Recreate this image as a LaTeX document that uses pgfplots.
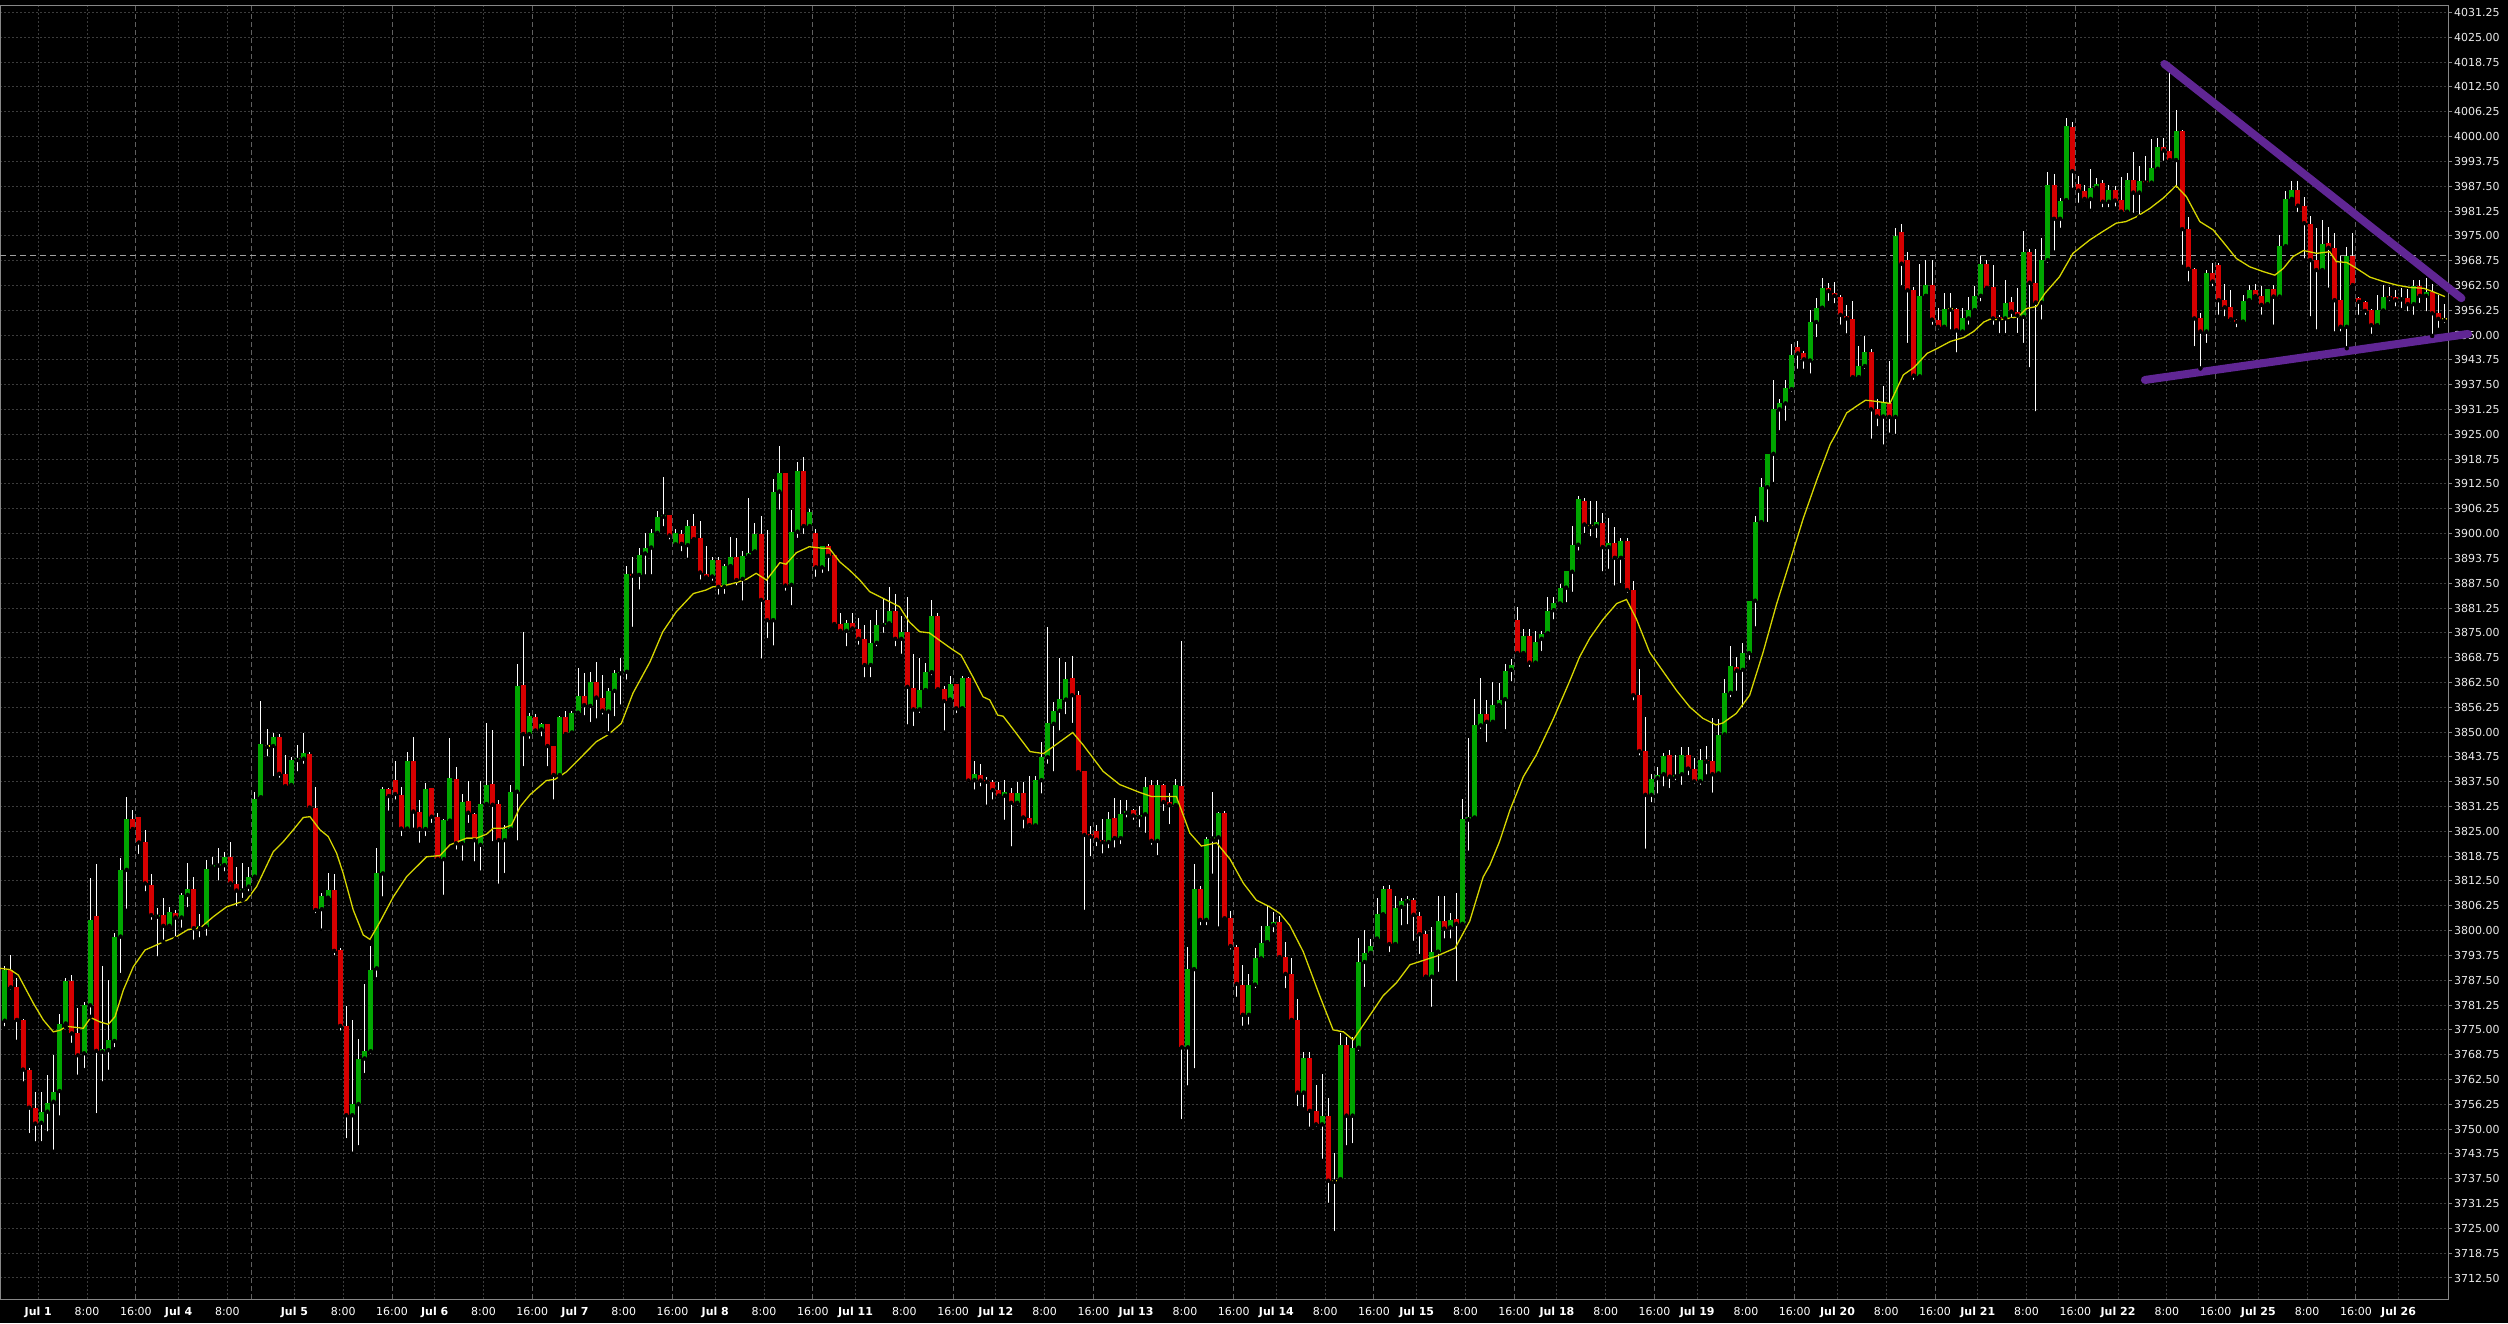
\documentclass[border=0pt]{standalone}
\usepackage{fontspec}
\setmainfont{DejaVu Sans}
\usepackage{pgfplots}
\usepackage{pgfplotstable}
\pgfplotsset{compat=1.18}
\definecolor{cgreen}{RGB}{0,166,0}
\definecolor{cred}{RGB}{214,0,0}
\definecolor{cyellow}{RGB}{214,214,0}
\definecolor{cpurple}{RGB}{96,38,148}
\definecolor{gridc}{RGB}{60,60,60}
\definecolor{sessc}{RGB}{95,95,95}
\definecolor{framec}{RGB}{135,135,135}

\pgfplotstableread{
n o h l c
0 3777.3 3791.1 3775.4 3790.2
1 3790.1 3793.8 3784.6 3785.7
2 3785.7 3788.0 3772.0 3777.5
3 3777.5 3777.8 3761.5 3765.0
4 3765.0 3765.5 3748.5 3755.4
5 3755.4 3759.4 3746.4 3751.4
6 3751.6 3759.4 3746.4 3754.4
7 3754.4 3763.6 3748.9 3756.6
8 3756.9 3768.6 3744.3 3759.4
9 3759.6 3779.1 3752.9 3776.6
10 3776.6 3788.0 3775.8 3787.3
11 3787.3 3788.8 3771.2 3774.1
12 3774.1 3780.4 3763.2 3768.6
13 3769.1 3782.1 3764.9 3781.2
14 3781.2 3813.2 3778.3 3802.8
15 3803.7 3816.8 3753.5 3769.7
16 3769.5 3791.1 3761.5 3770.1
17 3769.9 3787.5 3764.4 3772.4
18 3772.2 3799.5 3770.1 3798.5
19 3798.5 3818.2 3788.8 3815.3
20 3815.3 3833.6 3805.0 3828.0
21 3828.0 3830.4 3824.9 3825.6
22 3828.5 3828.6 3818.8 3822.2
23 3822.2 3825.4 3809.4 3811.9
24 3811.5 3814.2 3802.2 3803.9
25 3803.5 3805.6 3793.0 3803.9
26 3803.9 3808.1 3797.2 3801.2
27 3801.2 3806.0 3800.2 3804.6
28 3804.4 3805.2 3798.0 3803.3
29 3803.3 3809.4 3800.2 3809.0
30 3809.0 3817.1 3805.4 3810.4
31 3810.4 3813.4 3797.2 3800.6
32 3800.6 3804.3 3797.8 3800.8
33 3801.0 3817.8 3798.2 3815.4
34 3816.1 3818.6 3815.3 3816.5
35 3816.4 3820.7 3812.1 3816.9
36 3816.5 3819.9 3814.4 3818.5
37 3818.5 3822.2 3810.6 3811.9
38 3811.7 3816.1 3805.6 3810.1
39 3810.1 3817.1 3807.7 3810.6
40 3811.1 3816.1 3809.4 3813.4
41 3813.6 3834.9 3812.8 3833.1
42 3833.6 3857.9 3833.4 3847.0
43 3846.5 3850.7 3843.4 3846.5
44 3846.5 3849.9 3838.4 3848.7
45 3848.7 3849.5 3838.0 3839.5
46 3839.5 3844.3 3835.6 3836.4
47 3836.7 3843.7 3836.4 3843.0
48 3843.0 3846.8 3839.6 3843.5
49 3843.3 3849.9 3841.5 3844.8
50 3844.5 3844.9 3830.6 3831.0
51 3831.0 3836.3 3803.9 3805.2
52 3805.4 3809.4 3800.0 3808.7
53 3808.3 3814.6 3807.7 3810.2
54 3810.2 3814.2 3793.3 3794.9
55 3795.1 3795.5 3774.3 3776.0
56 3776.0 3781.0 3747.2 3753.5
57 3753.5 3777.6 3743.8 3756.3
58 3756.3 3772.8 3745.4 3767.6
59 3767.8 3786.5 3763.6 3769.6
60 3769.6 3796.1 3768.4 3790.1
61 3790.5 3820.7 3787.7 3814.4
62 3814.4 3836.1 3808.1 3835.7
63 3835.7 3835.9 3829.7 3833.9
64 3837.9 3842.8 3832.5 3834.4
65 3834.2 3836.3 3823.3 3825.7
66 3825.7 3845.1 3825.4 3842.6
67 3842.8 3848.7 3825.4 3830.0
68 3830.0 3832.9 3821.6 3825.6
69 3825.6 3837.1 3823.3 3835.7
70 3835.9 3836.0 3826.6 3828.7
71 3828.7 3829.6 3817.8 3818.0
72 3818.0 3828.0 3808.5 3827.9
73 3827.7 3848.5 3827.2 3838.5
74 3838.2 3841.2 3819.9 3822.0
75 3822.0 3834.4 3817.1 3832.4
76 3832.7 3837.7 3826.6 3829.7
77 3829.4 3829.6 3816.9 3822.8
78 3821.6 3837.7 3814.6 3831.9
79 3831.9 3852.4 3831.2 3836.7
80 3836.9 3850.6 3822.0 3831.7
81 3831.9 3832.9 3811.3 3822.8
82 3822.8 3826.6 3814.0 3825.5
83 3825.5 3836.7 3825.3 3835.0
84 3835.0 3867.2 3822.2 3861.6
85 3861.9 3875.1 3840.9 3849.5
86 3849.5 3854.9 3847.8 3854.1
87 3853.7 3854.6 3849.3 3850.4
88 3850.7 3852.4 3848.4 3852.0
89 3852.0 3852.1 3840.9 3846.5
90 3846.5 3846.6 3832.5 3839.2
91 3839.2 3854.1 3838.8 3853.9
92 3853.9 3855.2 3848.9 3849.5
93 3849.9 3855.2 3849.7 3854.7
94 3854.9 3866.1 3853.9 3859.1
95 3859.1 3865.0 3853.7 3856.8
96 3856.6 3865.2 3852.0 3862.5
97 3862.5 3867.7 3852.9 3858.7
98 3858.7 3864.4 3853.9 3855.4
99 3855.2 3861.0 3849.7 3860.4
100 3860.4 3865.6 3853.5 3864.8
101 3864.8 3868.6 3856.4 3865.2
102 3865.2 3891.8 3862.7 3889.8
103 3889.8 3894.2 3876.0 3889.4
104 3889.6 3896.5 3885.4 3894.6
105 3895.0 3900.1 3889.2 3896.5
106 3896.5 3901.1 3889.2 3900.2
107 3900.2 3905.8 3899.1 3904.3
108 3904.3 3914.3 3901.3 3904.7
109 3904.7 3904.8 3898.0 3899.5
110 3897.3 3901.1 3897.1 3900.1
111 3899.9 3900.9 3895.0 3897.4
112 3897.1 3903.4 3893.4 3901.9
113 3901.9 3904.9 3898.4 3898.6
114 3898.8 3903.3 3887.9 3890.2
115 3889.8 3896.9 3888.3 3889.0
116 3889.2 3894.2 3887.6 3893.4
117 3893.4 3894.0 3884.1 3886.6
118 3886.6 3892.4 3884.3 3891.8
119 3891.8 3899.2 3891.7 3894.0
120 3894.0 3898.8 3886.5 3888.3
121 3888.6 3895.5 3882.6 3894.4
122 3894.4 3908.9 3893.8 3895.2
123 3895.5 3902.6 3895.0 3899.9
124 3899.9 3904.4 3868.0 3883.3
125 3883.3 3900.9 3873.2 3878.2
126 3878.2 3913.7 3871.3 3910.6
127 3910.6 3922.1 3905.5 3915.2
128 3915.2 3915.3 3885.1 3886.9
129 3887.1 3906.0 3881.4 3900.5
130 3900.5 3918.1 3898.4 3915.8
131 3915.8 3919.4 3899.4 3901.9
132 3901.9 3906.2 3901.6 3905.5
133 3900.2 3901.1 3888.6 3891.5
134 3891.5 3897.0 3889.6 3896.9
135 3896.9 3897.4 3890.0 3894.4
136 3894.5 3894.6 3876.6 3877.2
137 3877.2 3879.9 3874.5 3875.5
138 3875.5 3878.2 3871.1 3877.6
139 3877.6 3879.9 3874.9 3876.1
140 3876.0 3878.7 3871.5 3873.5
141 3873.5 3877.0 3863.3 3866.9
142 3866.9 3878.2 3863.3 3872.5
143 3872.5 3880.8 3871.1 3877.0
144 3877.0 3883.5 3874.5 3877.4
145 3877.4 3886.6 3876.6 3880.5
146 3880.5 3884.8 3871.1 3873.5
147 3873.5 3879.3 3869.2 3875.3
148 3875.3 3884.1 3851.4 3861.4
149 3861.2 3869.8 3851.0 3855.7
150 3855.7 3868.6 3854.3 3860.6
151 3860.6 3867.5 3860.4 3865.1
152 3865.1 3883.3 3863.8 3879.2
153 3879.2 3879.9 3860.6 3860.8
154 3860.8 3861.5 3849.9 3857.8
155 3858.2 3864.1 3858.1 3862.1
156 3862.1 3862.2 3854.3 3856.0
157 3856.0 3864.1 3855.9 3863.7
158 3863.7 3863.8 3836.7 3837.8
159 3837.9 3842.6 3835.0 3839.4
160 3839.2 3842.0 3835.8 3837.8
161 3837.9 3838.8 3831.2 3837.5
162 3837.5 3837.9 3832.5 3835.4
163 3835.5 3837.4 3833.0 3834.0
164 3834.0 3837.9 3827.4 3834.8
165 3834.6 3835.9 3820.7 3832.2
166 3832.2 3837.4 3831.0 3834.6
167 3834.6 3837.4 3825.2 3828.5
168 3828.3 3839.0 3825.5 3826.6
169 3826.5 3839.0 3825.5 3837.9
170 3837.9 3847.4 3834.0 3843.7
171 3843.7 3876.5 3841.5 3852.3
172 3852.1 3857.7 3839.6 3855.4
173 3855.4 3868.7 3849.9 3858.3
174 3858.2 3867.6 3854.0 3863.4
175 3863.6 3869.2 3851.8 3859.3
176 3859.3 3860.3 3839.5 3839.9
177 3840.1 3840.2 3804.7 3824.1
178 3824.3 3826.3 3818.2 3823.7
179 3825.0 3826.5 3820.7 3822.9
180 3822.9 3828.0 3818.9 3822.3
181 3822.3 3830.0 3820.2 3828.0
182 3828.3 3833.5 3820.4 3823.3
183 3823.3 3833.0 3821.3 3829.3
184 3829.7 3833.0 3828.0 3830.2
185 3830.4 3830.7 3827.4 3829.0
186 3828.6 3831.3 3825.5 3829.0
187 3829.3 3838.8 3824.1 3836.3
188 3836.6 3837.9 3821.1 3822.6
189 3822.6 3837.9 3818.5 3836.6
190 3836.6 3837.0 3829.6 3832.4
191 3832.4 3834.6 3826.3 3831.6
192 3831.6 3838.2 3831.3 3836.6
193 3836.4 3873.0 3752.0 3770.6
194 3770.6 3796.0 3760.5 3790.3
195 3790.3 3816.9 3764.8 3810.4
196 3810.4 3811.3 3800.8 3802.7
197 3802.7 3823.7 3800.8 3823.2
198 3823.2 3834.8 3813.8 3823.5
199 3823.5 3830.0 3800.5 3829.6
200 3829.6 3830.2 3802.4 3803.1
201 3803.1 3805.0 3794.7 3796.1
202 3795.8 3796.4 3782.8 3786.6
203 3786.3 3791.4 3775.5 3778.8
204 3778.8 3789.1 3775.8 3786.3
205 3786.4 3795.6 3785.0 3793.0
206 3793.0 3801.1 3792.3 3796.9
207 3797.1 3806.1 3797.0 3801.1
208 3801.4 3804.7 3799.1 3802.2
209 3802.2 3803.8 3792.5 3793.3
210 3793.3 3797.1 3785.0 3789.1
211 3789.1 3793.0 3776.9 3777.5
212 3777.5 3782.7 3755.3 3759.2
213 3759.2 3769.4 3755.0 3767.8
214 3767.8 3769.4 3750.1 3754.6
215 3754.6 3761.2 3750.1 3751.2
216 3751.2 3763.9 3742.0 3753.3
217 3753.4 3757.9 3730.9 3737.0
218 3737.0 3743.9 3723.8 3737.0
219 3737.4 3774.2 3737.0 3771.1
220 3771.1 3773.3 3745.4 3753.4
221 3753.4 3773.1 3745.9 3770.5
222 3770.5 3798.2 3769.2 3792.1
223 3792.1 3800.2 3785.3 3794.4
224 3794.4 3798.0 3793.9 3796.1
225 3798.0 3808.3 3797.8 3804.1
226 3804.1 3811.3 3804.0 3810.4
227 3810.4 3811.5 3794.1 3796.6
228 3796.6 3808.6 3796.0 3805.8
229 3806.0 3808.2 3800.8 3807.4
230 3807.4 3808.6 3801.1 3807.8
231 3807.7 3808.2 3796.9 3804.0
232 3803.8 3804.7 3793.6 3799.1
233 3799.1 3799.9 3788.0 3788.4
234 3788.4 3800.8 3780.3 3794.5
235 3794.7 3808.6 3789.1 3802.4
236 3802.4 3808.6 3797.5 3800.5
237 3800.8 3804.5 3797.5 3802.8
238 3803.0 3809.6 3786.7 3801.7
239 3801.7 3833.2 3801.3 3828.0
240 3828.0 3848.5 3819.6 3828.5
241 3828.5 3858.3 3828.0 3851.7
242 3851.7 3863.6 3850.3 3854.6
243 3854.6 3858.1 3847.0 3852.6
244 3852.6 3862.5 3852.3 3856.8
245 3856.8 3862.3 3856.5 3858.1
246 3858.3 3867.1 3850.2 3865.5
247 3865.7 3868.3 3862.3 3866.8
248 3878.3 3881.6 3868.9 3869.9
249 3869.9 3876.1 3868.9 3874.3
250 3874.3 3876.1 3865.9 3867.5
251 3867.5 3875.5 3867.1 3872.8
252 3873.5 3875.5 3869.9 3874.7
253 3874.9 3884.0 3874.3 3880.4
254 3880.7 3884.0 3877.9 3882.4
255 3882.4 3887.2 3882.2 3886.4
256 3886.4 3890.7 3882.2 3890.6
257 3890.4 3902.0 3884.8 3897.2
258 3897.2 3909.6 3895.2 3908.7
259 3908.1 3908.9 3899.6 3902.3
260 3902.0 3908.1 3898.8 3901.7
261 3901.9 3908.1 3898.4 3902.8
262 3902.6 3905.3 3890.0 3896.6
263 3896.6 3903.9 3890.6 3897.6
264 3897.6 3901.7 3886.4 3893.9
265 3893.9 3899.0 3887.0 3898.1
266 3898.1 3898.8 3884.6 3885.8
267 3885.8 3888.0 3857.5 3859.3
268 3859.3 3865.9 3843.6 3845.2
269 3845.2 3853.9 3820.1 3834.2
270 3834.2 3839.4 3831.8 3838.2
271 3838.4 3841.2 3834.0 3839.2
272 3839.4 3844.8 3835.8 3844.0
273 3844.2 3845.4 3835.4 3838.8
274 3838.8 3844.2 3837.4 3839.2
275 3839.4 3846.3 3836.2 3844.2
276 3844.2 3846.3 3838.6 3840.8
277 3840.8 3843.6 3836.4 3837.6
278 3837.6 3845.8 3836.2 3843.0
279 3843.0 3846.6 3838.8 3842.6
280 3842.8 3853.5 3834.2 3839.4
281 3839.6 3853.3 3838.8 3849.4
282 3849.4 3863.5 3848.4 3859.9
283 3859.9 3871.6 3858.3 3866.7
284 3866.5 3868.9 3859.9 3865.5
285 3865.7 3872.5 3855.7 3869.9
286 3869.9 3883.1 3867.7 3883.0
287 3883.1 3904.5 3876.1 3902.9
288 3902.9 3914.1 3902.0 3911.7
289 3911.7 3920.1 3902.4 3920.0
290 3920.1 3938.8 3912.5 3931.3
291 3931.3 3934.0 3925.5 3932.8
292 3932.8 3938.8 3927.9 3936.6
293 3936.4 3947.8 3935.2 3945.1
294 3946.9 3948.4 3941.0 3945.4
295 3945.4 3946.0 3941.0 3943.9
296 3943.6 3956.3 3939.8 3953.3
297 3953.3 3959.3 3949.0 3956.9
298 3956.9 3964.3 3956.8 3961.9
299 3961.9 3963.1 3958.1 3961.1
300 3960.5 3963.5 3957.5 3959.9
301 3959.6 3960.0 3952.1 3955.1
302 3954.7 3957.5 3949.9 3954.2
303 3954.1 3958.7 3938.8 3939.4
304 3939.4 3947.2 3938.8 3942.2
305 3942.2 3949.9 3941.0 3945.8
306 3945.7 3946.6 3923.4 3931.3
307 3931.3 3934.0 3926.5 3929.5
308 3929.5 3937.3 3921.9 3933.0
309 3933.0 3943.4 3924.9 3929.4
310 3929.4 3977.0 3924.6 3975.0
311 3976.0 3978.0 3962.0 3968.0
312 3969.0 3971.0 3947.5 3961.3
313 3961.3 3962.0 3938.2 3939.8
314 3939.6 3968.0 3938.8 3959.9
315 3959.9 3969.0 3959.8 3962.7
316 3962.7 3969.0 3952.1 3953.9
317 3953.9 3956.9 3950.9 3952.1
318 3952.1 3960.5 3951.1 3956.6
319 3956.6 3960.5 3950.9 3956.6
320 3956.6 3956.9 3945.1 3951.2
321 3950.9 3956.9 3950.8 3954.2
322 3954.2 3959.5 3952.1 3956.3
323 3956.3 3962.3 3956.2 3959.9
324 3959.9 3970.0 3958.0 3968.0
325 3968.0 3969.0 3961.0 3961.9
326 3962.0 3967.7 3952.1 3954.2
327 3954.6 3955.1 3950.0 3954.0
328 3954.2 3963.9 3950.0 3958.2
329 3958.4 3959.7 3953.8 3955.9
330 3955.9 3961.8 3950.0 3954.9
331 3954.6 3976.1 3947.5 3971.0
332 3971.0 3971.6 3941.4 3963.2
333 3963.2 3971.6 3930.3 3958.2
334 3958.2 3974.4 3953.4 3968.9
335 3968.9 3991.2 3967.7 3987.8
336 3987.8 3990.6 3970.8 3979.3
337 3979.3 3984.5 3976.5 3983.8
338 3984.0 4004.6 3983.2 4002.7
339 4002.5 4003.8 3986.6 3991.3
340 3988.1 3990.1 3982.8 3986.4
341 3986.4 3987.8 3983.2 3984.3
342 3984.3 3991.8 3981.3 3987.1
343 3987.1 3989.5 3986.7 3988.1
344 3988.2 3989.1 3981.7 3983.6
345 3983.6 3987.8 3981.7 3986.5
346 3986.5 3987.6 3981.9 3983.9
347 3984.0 3989.9 3980.8 3981.1
348 3981.1 3990.9 3980.8 3989.1
349 3989.1 3996.0 3980.3 3985.9
350 3985.9 3992.6 3979.8 3988.8
351 3988.8 3995.0 3987.8 3988.4
352 3988.4 3999.3 3988.0 3992.2
353 3991.9 3999.6 3991.0 3997.3
354 3997.3 3999.6 3993.4 3996.5
355 3996.5 4016.5 3993.3 3994.1
356 3994.1 4006.7 3986.6 4001.5
357 4001.5 4001.7 3967.2 3976.7
358 3976.7 3979.8 3963.0 3966.7
359 3966.7 3966.9 3946.7 3954.2
360 3954.2 3955.5 3941.6 3950.9
361 3950.9 3966.4 3947.5 3965.6
362 3965.6 3968.1 3961.8 3963.5
363 3967.7 3968.1 3954.6 3958.8
364 3958.8 3963.0 3954.2 3957.0
365 3957.0 3961.4 3953.0 3954.0
366 3953.8 3954.0 3951.5 3953.4
367 3953.4 3960.1 3953.2 3958.6
368 3958.8 3962.6 3958.6 3961.4
369 3961.4 3963.0 3959.7 3959.8
370 3959.8 3962.4 3954.6 3957.6
371 3957.8 3961.7 3957.6 3961.5
372 3961.5 3962.6 3952.1 3959.7
373 3959.7 3975.2 3958.7 3972.4
374 3972.4 3986.3 3972.2 3984.3
375 3984.3 3988.7 3984.2 3986.6
376 3986.6 3988.7 3980.5 3982.6
377 3982.6 3984.9 3968.8 3978.2
378 3978.0 3980.1 3954.2 3968.9
379 3968.9 3976.9 3950.9 3966.4
380 3966.4 3979.0 3966.2 3973.0
381 3973.1 3977.3 3961.4 3972.0
382 3972.0 3975.8 3950.4 3958.8
383 3958.8 3969.9 3950.4 3952.1
384 3952.1 3972.3 3946.7 3969.9
385 3969.9 3975.8 3962.4 3962.6
386 3959.3 3959.5 3954.6 3958.4
387 3958.4 3958.6 3954.6 3956.1
388 3956.3 3956.5 3949.8 3952.5
389 3952.5 3960.1 3952.3 3956.2
390 3956.2 3962.6 3956.0 3959.7
391 3959.8 3962.0 3958.0 3959.3
392 3959.7 3961.4 3956.7 3958.8
393 3959.0 3961.8 3956.3 3959.4
394 3959.3 3961.5 3955.5 3957.8
395 3957.8 3963.9 3954.6 3962.4
396 3962.4 3963.9 3957.6 3959.9
397 3959.9 3964.3 3955.5 3960.8
398 3960.8 3963.0 3949.8 3955.5
399 3955.5 3960.1 3951.3 3954.1
400 3954.0 3957.8 3952.5 3954.0
}\candles

\begin{document}
\begin{tikzpicture}
\fill[black] (0,0) rectangle (2508pt,1323pt);
\useasboundingbox (0,0) rectangle (2508pt,1323pt);
\begin{axis}[
  at={(0pt,24pt)}, anchor=south west,
  width=2448pt, height=1293pt, scale only axis,
  xmin=-0.78, xmax=400.6, ymin=3707.21, ymax=4032.9,
  clip=false,
  axis line style={draw=framec, line width=1pt},
  /pgf/number format/assume math mode=true,
  ytick distance=6.25,
  ytick pos=right, yticklabel pos=right,
  tick align=outside,
  major tick length=4pt,
  minor tick length=0pt,
  ytick style={draw=framec, line width=1pt},
  xtick style={draw=none},
  ymajorgrids,
  y grid style={draw=gridc, line width=1pt, dash pattern=on 2pt off 2pt},
  minor grid style={draw=gridc, line width=1pt, dash pattern=on 2pt off 2pt},
  yticklabel style={font=\fontsize{11}{11}\selectfont, text=white!92!black, anchor=west, inner sep=0pt, xshift=2pt,
    /pgf/number format/.cd, fixed, fixed zerofill, precision=2, 1000 sep={}},
  xtick={5.5,13.5,21.5,28.5,36.5,47.5,55.5,63.5,70.5,78.5,86.5,93.5,101.5,109.5,116.5,124.5,132.5,139.5,147.5,155.5,162.5,170.5,178.5,185.5,193.5,201.5,208.5,216.5,224.5,231.5,239.5,247.5,254.5,262.5,270.5,277.5,285.5,293.5,300.5,308.5,316.5,323.5,331.5,339.5,346.5,354.5,362.5,369.5,377.5,385.5,392.5},
  xticklabels={\textbf{Jul 1},8:00,16:00,\textbf{Jul 4},8:00,\textbf{Jul 5},8:00,16:00,\textbf{Jul 6},8:00,16:00,\textbf{Jul 7},8:00,16:00,\textbf{Jul 8},8:00,16:00,\textbf{Jul 11},8:00,16:00,\textbf{Jul 12},8:00,16:00,\textbf{Jul 13},8:00,16:00,\textbf{Jul 14},8:00,16:00,\textbf{Jul 15},8:00,16:00,\textbf{Jul 18},8:00,16:00,\textbf{Jul 19},8:00,16:00,\textbf{Jul 20},8:00,16:00,\textbf{Jul 21},8:00,16:00,\textbf{Jul 22},8:00,16:00,\textbf{Jul 25},8:00,16:00,\textbf{Jul 26}},
  xticklabel style={font=\fontsize{11}{11}\selectfont, text=white, anchor=north, inner sep=0pt, yshift=-4pt, text height=8pt, text depth=0pt},
  minor xtick={5.5,13.5,28.5,36.5,47.5,55.5,70.5,78.5,93.5,101.5,116.5,124.5,139.5,147.5,162.5,170.5,185.5,193.5,208.5,216.5,231.5,239.5,254.5,262.5,277.5,285.5,300.5,308.5,323.5,331.5,346.5,354.5,369.5,377.5,392.5},
  xminorgrids,
  extra x ticks={21.5,40.5,63.5,86.5,109.5,132.5,155.5,178.5,201.5,224.5,247.5,270.5,293.5,316.5,339.5,362.5,385.5},
  extra x tick labels={},
  extra x tick style={grid=major, major tick length=0pt, major grid style={draw=sessc, line width=1pt, dash pattern=on 5pt off 3pt}},
]
% horizontal marker line
\addplot[draw=gray!75, line width=1pt, dash pattern=on 6pt off 4pt, forget plot] coordinates {(-0.78,3970) (400.6,3970)};
% wicks
\addplot[only marks, mark=none, forget plot,
  error bars/.cd, y dir=plus, y explicit, error mark=none,
  error bar style={draw=white, line width=1pt}]
  table[x=n, y=l, y error plus expr={\thisrow{h}-\thisrow{l}}] {\candles};
% up bodies
\addplot[only marks, mark=none, forget plot,
  error bars/.cd, y dir=plus, y explicit, error mark=none,
  error bar style={draw=cgreen, line width=5pt}]
  table[x=n, y expr={\thisrow{c}>\thisrow{o} ? \thisrow{o} : nan}, y error plus expr={max(\thisrow{c}-\thisrow{o},0.45)}] {\candles};
% down bodies
\addplot[only marks, mark=none, forget plot,
  error bars/.cd, y dir=plus, y explicit, error mark=none,
  error bar style={draw=cred, line width=5pt}]
  table[x=n, y expr={\thisrow{c}<\thisrow{o} ? \thisrow{c} : nan}, y error plus expr={max(\thisrow{o}-\thisrow{c},0.45)}] {\candles};
% doji
\addplot[only marks, mark=none, forget plot,
  error bars/.cd, y dir=plus, y explicit, error mark=none,
  error bar style={draw=yellow, line width=5pt}]
  table[x=n, y expr={\thisrow{c}==\thisrow{o} ? \thisrow{o}-0.22 : nan}, y error plus expr={0.45}] {\candles};
% moving average
\addplot[draw=cyellow, line width=1.3pt, forget plot] coordinates {
(-0.78,3790.5) (0.86,3790.2) (2.23,3788.8) (4.69,3781.7) (6.32,3777.5) (7.96,3774.5) (9.06,3774.9) (10.15,3775.9) (12.88,3775.4) (14.08,3778.1) (15.61,3777.0) (16.98,3776.4) (18.07,3778.3) (19.44,3785.0) (21.08,3790.9) (22.99,3795.1) (24.9,3796.4) (26.54,3797.5) (28.18,3798.5) (30.09,3800.3) (32.0,3800.6) (34.19,3803.5) (36.38,3806.0) (39.66,3807.7) (41.3,3811.1) (44.03,3819.9) (45.67,3822.4) (47.31,3825.4) (48.95,3828.5) (50.04,3828.7) (51.68,3825.4) (53.04,3823.7) (54.41,3819.5) (55.5,3814.4) (57.14,3805.2) (58.78,3798.9) (59.88,3797.8) (61.52,3802.2) (63.7,3808.5) (65.89,3813.6) (67.53,3816.1) (69.17,3818.6) (71.35,3818.9) (72.99,3821.6) (75.72,3823.3) (77.36,3823.3) (79.0,3824.3) (80.1,3825.8) (81.7,3825.8) (83.1,3826.6) (84.5,3831.2) (86.1,3834.2) (88.8,3837.8) (90.2,3838.1) (92.1,3840.0) (94.3,3843.4) (97.0,3847.6) (98.9,3849.3) (101.1,3852.2) (103.0,3859.8) (105.8,3867.7) (107.9,3875.3) (110.1,3880.3) (112.9,3884.9) (115.0,3885.8) (116.1,3886.6) (117.8,3886.8) (120.0,3887.7) (121.6,3888.5) (123.2,3890.0) (124.9,3888.3) (127.1,3892.7) (128.1,3892.3) (129.8,3895.2) (131.9,3896.7) (134.1,3896.3) (135.2,3896.3) (136.9,3892.9) (138.5,3890.8) (140.2,3888.3) (141.8,3885.4) (144.0,3883.7) (146.7,3881.6) (148.3,3877.8) (150.0,3875.3) (151.6,3875.0) (153.2,3873.2) (155.4,3870.8) (156.8,3869.4) (158.7,3864.0) (160.4,3858.9) (161.5,3858.1) (162.8,3854.3) (163.7,3854.0) (165.9,3849.6) (168.1,3845.1) (170.3,3844.6) (172.5,3847.0) (175.1,3849.9) (176.8,3846.8) (180.1,3840.1) (182.8,3836.8) (186.1,3834.8) (188.0,3833.8) (189.9,3833.8) (192.1,3833.8) (194.3,3824.6) (196.2,3821.3) (198.7,3822.1) (200.9,3818.0) (203.1,3811.9) (205.2,3807.7) (207.4,3806.0) (209.1,3804.3) (210.7,3801.3) (212.9,3794.7) (215.6,3783.6) (217.8,3775.0) (219.5,3774.5) (221.1,3772.5) (223.8,3778.6) (226.0,3783.6) (228.2,3786.9) (230.4,3791.4) (232.6,3792.5) (234.8,3793.6) (237.8,3795.6) (240.2,3802.4) (242.4,3813.5) (243.5,3816.5) (245.1,3822.5) (246.8,3830.4) (249.0,3838.8) (251.1,3844.2) (253.9,3853.3) (256.6,3862.9) (258.2,3868.9) (259.9,3873.7) (262.0,3878.3) (264.3,3882.4) (265.9,3883.4) (267.5,3878.6) (269.7,3870.1) (271.9,3865.3) (274.1,3860.5) (276.3,3856.3) (278.4,3853.5) (280.6,3851.8) (281.7,3852.3) (283.9,3854.7) (286.1,3859.3) (288.3,3870.1) (290.5,3882.2) (292.7,3893.0) (294.9,3903.9) (297.1,3913.5) (299.3,3922.5) (300.4,3925.5) (302.0,3930.4) (303.7,3932.2) (305.1,3933.6) (306.9,3933.3) (309.1,3932.8) (311.3,3940.0) (313.0,3941.8) (315.2,3945.4) (316.8,3946.6) (319.0,3948.4) (321.2,3949.4) (322.8,3950.9) (324.5,3953.3) (325.5,3954.0) (327.2,3953.9) (330.1,3954.6) (331.5,3956.7) (333.1,3957.2) (334.5,3960.5) (336.9,3964.7) (339.1,3970.6) (341.8,3973.9) (344.0,3976.1) (346.2,3978.2) (347.8,3978.6) (349.5,3979.8) (351.7,3981.9) (353.9,3984.5) (356.0,3987.6) (357.7,3984.9) (359.9,3978.6) (362.1,3976.5) (363.7,3973.5) (365.9,3969.3) (368.1,3967.2) (370.3,3966.0) (372.2,3965.1) (373.6,3966.8) (375.2,3969.8) (376.9,3971.3) (379.1,3970.6) (381.2,3971.0) (382.3,3968.5) (384.0,3968.3) (385.6,3966.8) (387.8,3964.6) (390.0,3963.5) (392.2,3962.6) (394.4,3962.0) (396.6,3961.8) (398.2,3960.9) (400.1,3959.7)
};
% triangle lines
\addplot[draw=cpurple, line width=8pt, line cap=round, forget plot] coordinates {(354.1,4018.3) (402.8,3959.3)};
\addplot[draw=cpurple, line width=8pt, line cap=round, forget plot] coordinates {(350.9,3938.7) (403.9,3950.3)};
\end{axis}
\end{tikzpicture}
\end{document}
